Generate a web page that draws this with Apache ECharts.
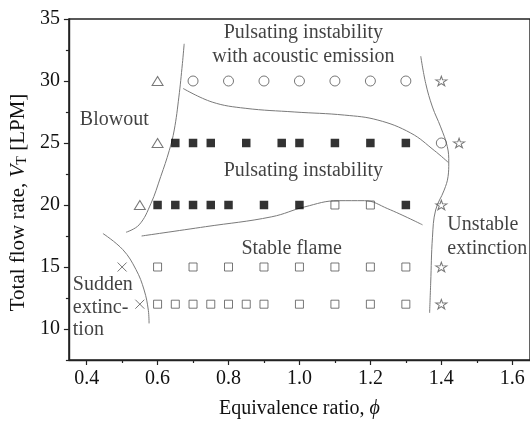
<!DOCTYPE html>
<html>
<head>
<meta charset="utf-8">
<script src="https://cdn.jsdelivr.net/npm/echarts@6/dist/echarts.min.js"></script>
<style>
  html, body { margin: 0; padding: 0; background: #fff; }
  #chart { width: 530px; height: 426px; }
</style>
</head>
<body>
<div id="chart"></div>
<script>
  // tick values
  var xMajorTicks = [0.4, 0.6, 0.8, 1.0, 1.2, 1.4, 1.6];
  var xMinorTicks = [0.5, 0.7, 0.9, 1.1, 1.3, 1.5];
  var yMajorTicks = [10, 15, 20, 25, 30, 35];
  var yMinorTicks = [7.5, 12.5, 17.5, 22.5, 27.5, 32.5];

  // measured points [phi, flow rate]
  var blowoutPts = [[0.6, 30], [0.6, 25], [0.55, 20]];
  var acousticPts = [[0.7, 30], [0.8, 30], [0.9, 30], [1.0, 30], [1.1, 30], [1.2, 30], [1.3, 30], [1.4, 25]];
  var pulsatingPts = [
    [0.65, 25], [0.7, 25], [0.75, 25], [0.85, 25], [0.95, 25], [1.0, 25], [1.1, 25], [1.2, 25], [1.3, 25],
    [0.6, 20], [0.65, 20], [0.7, 20], [0.75, 20], [0.8, 20], [0.9, 20], [1.0, 20], [1.3, 20]
  ];
  var stablePts = [
    [1.1, 20], [1.2, 20],
    [0.6, 15], [0.7, 15], [0.8, 15], [0.9, 15], [1.0, 15], [1.1, 15], [1.2, 15], [1.3, 15],
    [0.6, 12], [0.65, 12], [0.7, 12], [0.75, 12], [0.8, 12], [0.85, 12], [0.9, 12], [1.0, 12], [1.1, 12], [1.2, 12], [1.3, 12]
  ];
  var unstableExtPts = [[1.4, 30], [1.45, 25], [1.4, 20], [1.4, 15], [1.4, 12]];
  var suddenExtPts = [[0.5, 15], [0.55, 12]];

  // regime boundaries (hand drawn in the source)
  var blowoutBoundary = [[0.675, 33.0], [0.67, 31.4], [0.66, 28.7], [0.647, 26.05], [0.633, 24.4], [0.609, 22.3], [0.581, 20.1], [0.548, 18.4], [0.511, 17.8]];
  var acousticBoundary = [[0.672, 29.4], [0.754, 28.3], [0.847, 27.8], [0.987, 27.5], [1.127, 27.25], [1.221, 26.85], [1.314, 25.8], [1.38, 24.4], [1.421, 23.4]];
  var stableBoundary = [[0.555, 17.5], [0.735, 18.25], [0.922, 19.05], [1.015, 19.85], [1.109, 20.35], [1.183, 20.35], [1.249, 19.7], [1.347, 18.4]];
  var extinctionBoundary = [[1.342, 32.0], [1.356, 29.8], [1.375, 27.9], [1.398, 26.3], [1.417, 24.7], [1.421, 23.4], [1.419, 22.3], [1.408, 21.2], [1.384, 19.6], [1.375, 17.4], [1.37, 13.7], [1.367, 11.3]];
  var suddenBoundary = [[0.446, 17.7], [0.502, 16.4], [0.539, 14.8], [0.562, 13.15], [0.574, 11.5], [0.576, 10.45]];

  // region names and their anchors
  var regionNames = ["Pulsating instability\nwith acoustic emission", "Blowout", "Pulsating instability", "Stable flame", "Unstable\nextinction", "Sudden\nextinc-\ntion"];
  var regionAnchors = [[1.011, 32.94], [0.478, 26.9], [1.011, 22.8], [0.978, 16.5], [1.417, 17.46], [0.361, 11.73]];

  var FONT = "'Liberation Serif', 'Times New Roman', serif";
  var INK = "#111";
  var GREY = "#555555";
  var LINE = "#7a7a7a";
  var STAR = "path://M10,0L12.23,6.93L19.51,6.91L13.61,11.17L15.88,18.09L10,13.8L4.12,18.09L6.39,11.17L0.49,6.91L7.77,6.93Z";
  var CROSS = "path://M0,0L10,10M10,0L0,10";

  function openMarker(data, symbol, size) {
    return {
      type: "scatter",
      data: data,
      symbol: symbol,
      symbolSize: size,
      symbolKeepAspect: true,
      z: 5,
      itemStyle: { color: "rgba(255,255,255,0)", borderColor: GREY, borderWidth: 1 }
    };
  }

  function boundary(data) {
    return {
      type: "line",
      data: data,
      smooth: 0.4,
      symbol: "none",
      silent: true,
      z: 3,
      lineStyle: { color: LINE, width: 1 }
    };
  }

  function axisLineStyle() {
    return { show: true, lineStyle: { color: "#222", width: 1.4 } };
  }

  var chart = echarts.init(document.getElementById("chart"), null, { renderer: "canvas" });

  var option = {
    animation: false,
    backgroundColor: "#fff",
    textStyle: { fontFamily: FONT },
    grid: {
      left: 68, top: 19, width: 465, height: 341,
      show: true, borderColor: "#222", borderWidth: 1.4, backgroundColor: "transparent"
    },
    xAxis: [
      {
        type: "value", min: 0.35, max: 1.65, position: "bottom",
        axisLine: axisLineStyle(),
        axisTick: { show: true, inside: false, length: 5, customValues: xMajorTicks, lineStyle: { color: "#222", width: 1.2 } },
        axisLabel: {
          customValues: xMajorTicks, margin: 9, color: INK, fontSize: 20, fontFamily: FONT,
          formatter: function (v) { return v.toFixed(1); }
        },
        splitLine: { show: false },
        name: "{n|Equivalence ratio, }{i|ϕ}",
        nameLocation: "middle",
        nameGap: 39,
        nameTextStyle: {
          rich: {
            n: { fontSize: 20, fontFamily: FONT, color: INK },
            i: { fontSize: 20, fontFamily: FONT, fontStyle: "italic", color: INK }
          }
        }
      },
      {
        type: "value", min: 0.35, max: 1.65, position: "bottom",
        axisLine: { show: false },
        axisTick: { show: true, inside: false, length: 3, customValues: xMinorTicks, lineStyle: { color: "#222", width: 1.2 } },
        axisLabel: { show: false },
        splitLine: { show: false }
      }
    ],
    yAxis: [
      {
        type: "value", min: 7.5, max: 35, position: "left",
        axisLine: axisLineStyle(),
        axisTick: { show: true, inside: false, length: 5, customValues: yMajorTicks, lineStyle: { color: "#222", width: 1.2 } },
        axisLabel: { customValues: yMajorTicks, margin: 9, color: INK, fontSize: 20, fontFamily: FONT },
        splitLine: { show: false },
        name: "{n|Total flow rate, }{v|V}{s|T}{n| [LPM]}",
        nameLocation: "middle",
        nameGap: 37,
        nameTextStyle: {
          padding: [0, 26, 0, 0],
          rich: {
            n: { fontSize: 21, fontFamily: FONT, color: INK, lineHeight: 24, verticalAlign: "bottom" },
            v: { fontSize: 21, fontFamily: FONT, fontStyle: "italic", color: INK, lineHeight: 24, verticalAlign: "bottom" },
            s: { fontSize: 14, fontFamily: FONT, color: INK, lineHeight: 12, verticalAlign: "bottom" }
          }
        }
      },
      {
        type: "value", min: 7.5, max: 35, position: "left",
        axisLine: { show: false },
        axisTick: { show: true, inside: false, length: 3, customValues: yMinorTicks, lineStyle: { color: "#222", width: 1.2 } },
        axisLabel: { show: false },
        splitLine: { show: false }
      }
    ],
    series: [
      boundary(blowoutBoundary),
      boundary(acousticBoundary),
      boundary(stableBoundary),
      boundary(extinctionBoundary),
      boundary(suddenBoundary),
      openMarker(blowoutPts, "triangle", [11, 9]),
      openMarker(acousticPts, "circle", 10),
      openMarker(stablePts, "rect", 8),
      openMarker(unstableExtPts, STAR, [11, 10]),
      openMarker(suddenExtPts, CROSS, 9),
      {
        type: "scatter",
        data: pulsatingPts,
        symbol: "rect",
        symbolSize: 8.5,
        z: 5,
        itemStyle: { color: "#000" }
      },
      {
        type: "scatter",
        symbolSize: 0,
        silent: true,
        z: 6,
        data: regionNames.map(function (name, i) {
          var left = name.indexOf("Unstable") === 0 || name.indexOf("Sudden") === 0;
          return {
            name: name,
            value: regionAnchors[i],
            label: { align: left ? "left" : "center", lineHeight: name.indexOf("Sudden") === 0 ? 22.5 : 24 }
          };
        }),
        label: {
          show: true,
          position: "inside",
          formatter: "{b}",
          fontFamily: FONT,
          fontSize: 20,
          color: INK,
          verticalAlign: "middle"
        }
      }
    ]
  };

  chart.setOption(option);
</script>
</body>
</html>
